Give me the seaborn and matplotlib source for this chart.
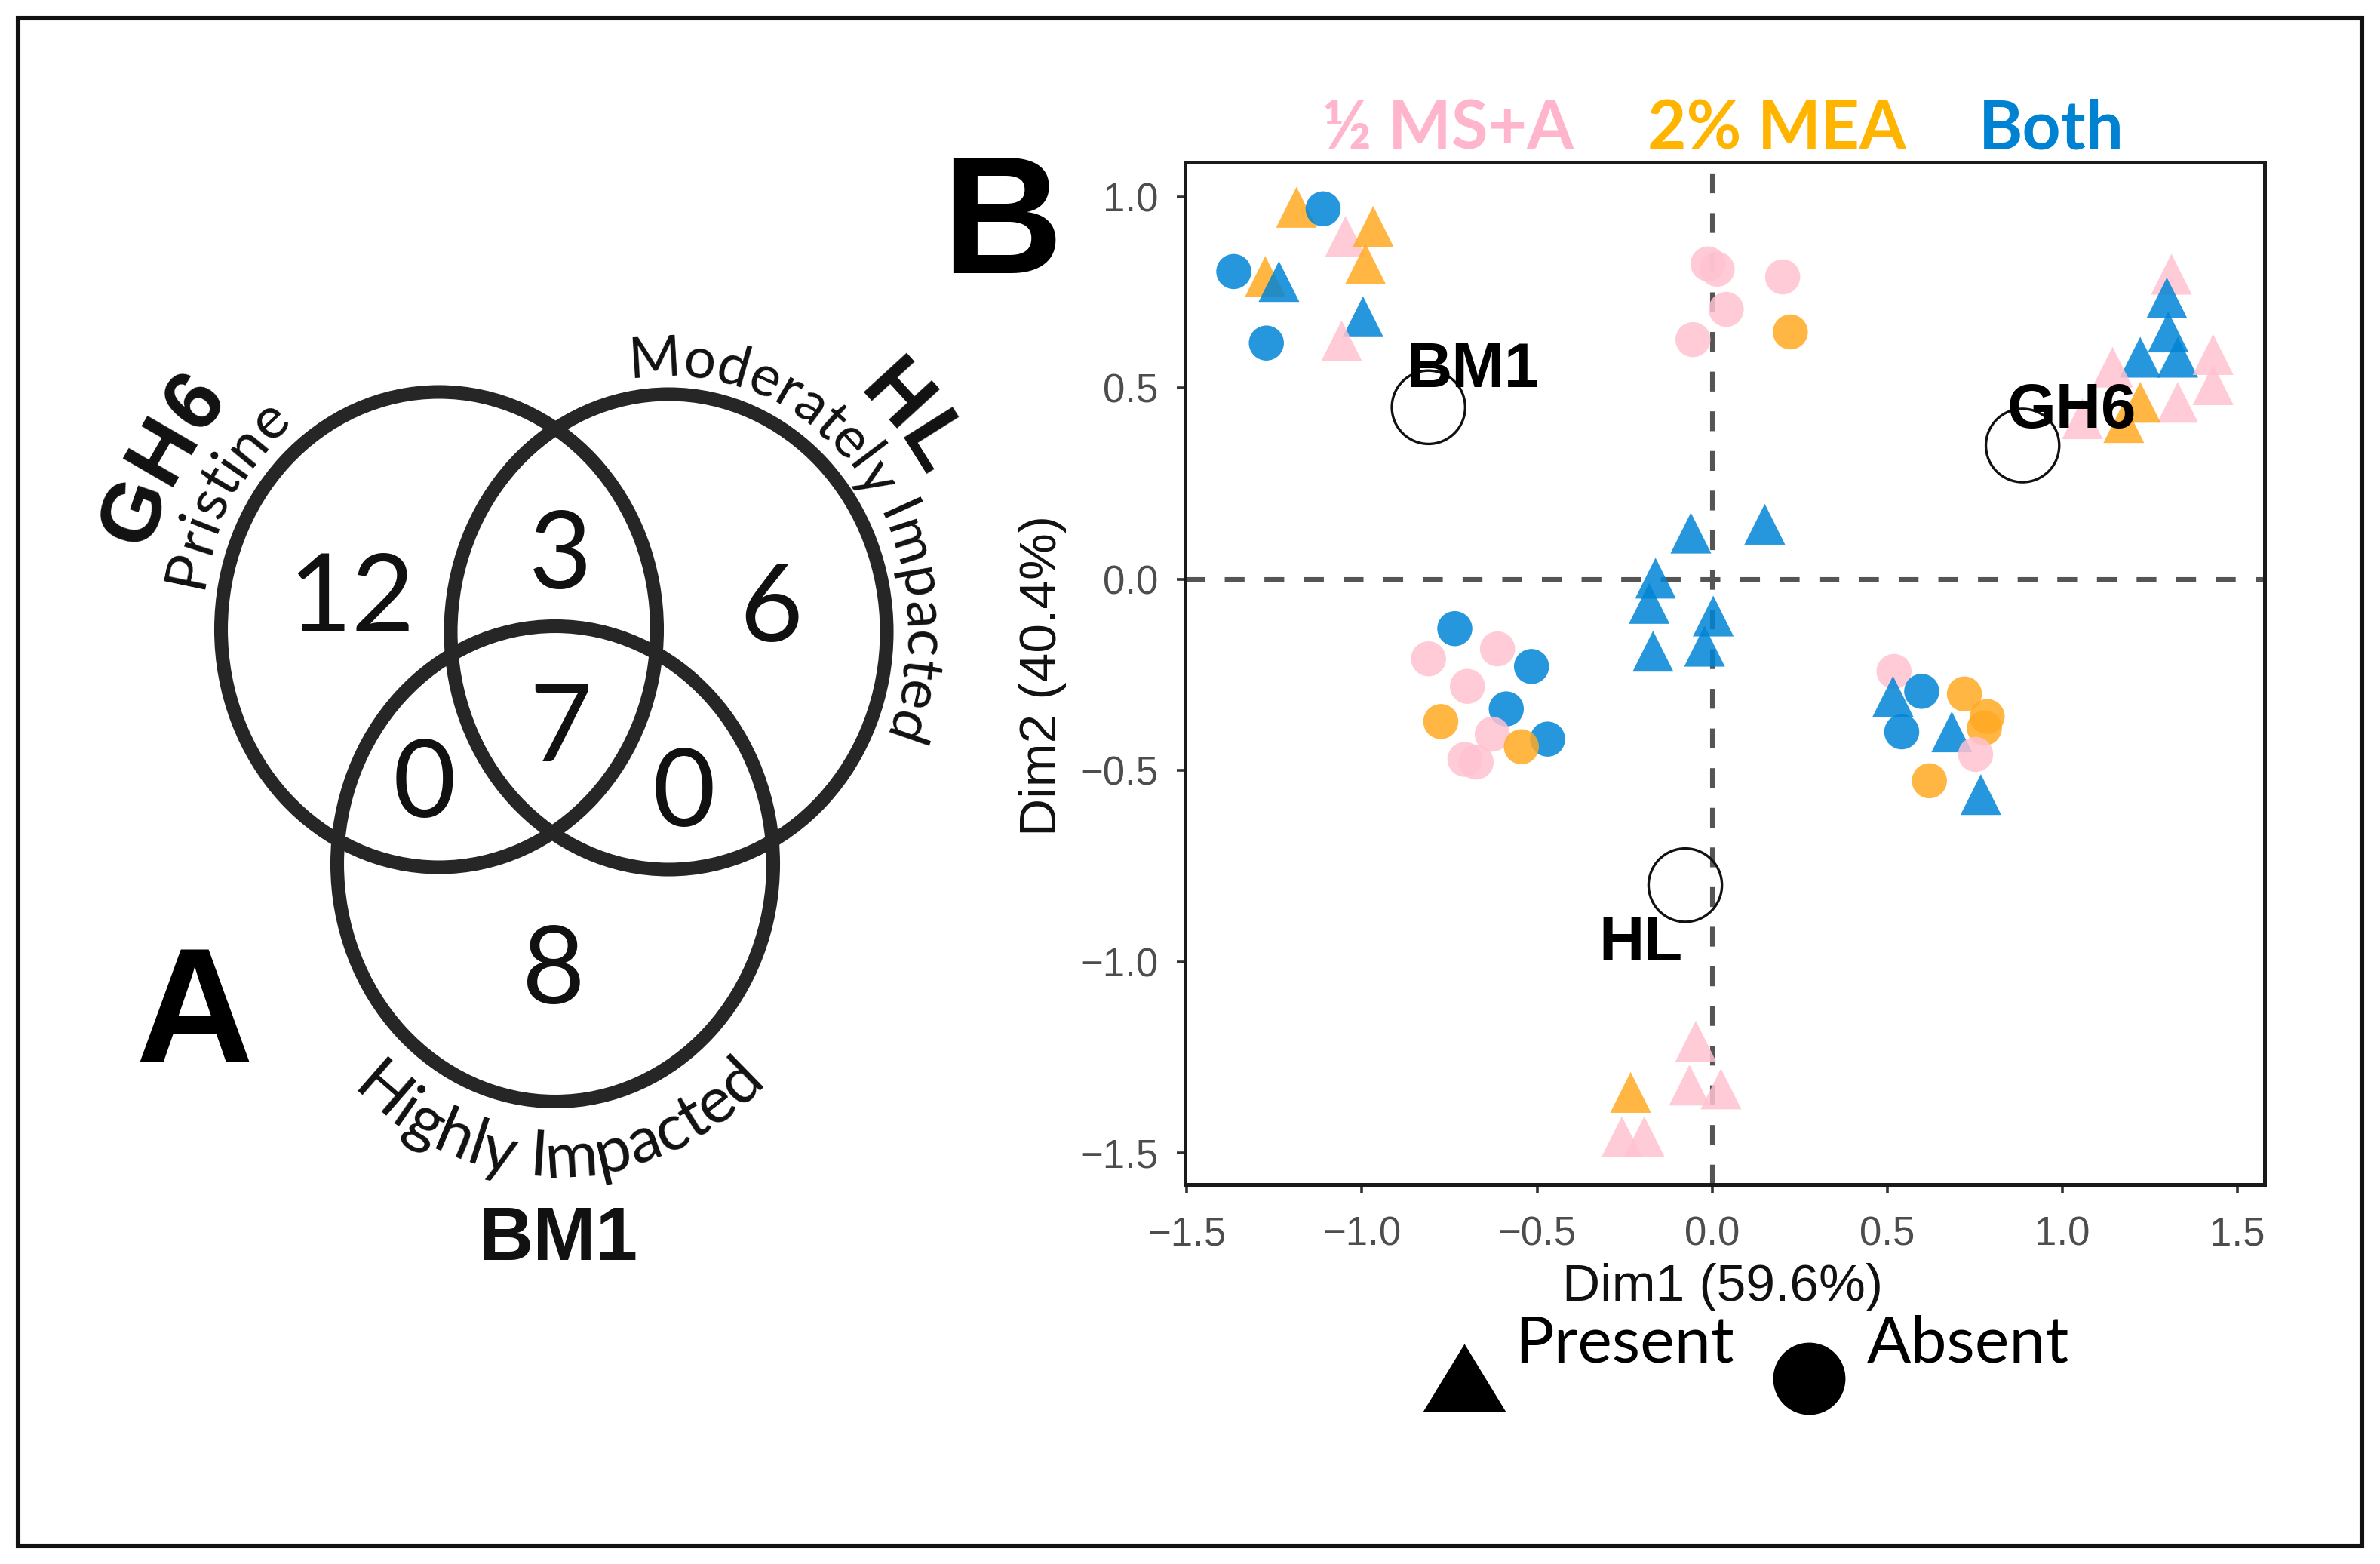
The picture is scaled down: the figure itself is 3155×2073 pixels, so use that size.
import numpy as np
import pandas as pd
import seaborn as sns
import matplotlib.pyplot as plt
from matplotlib import font_manager as fm
from matplotlib.patches import Ellipse, Rectangle
from matplotlib.lines import Line2D

try:
    from matplotlib.ft2font import LoadFlags
    NO_HINT = LoadFlags.NO_HINTING
except ImportError:
    from matplotlib.ft2font import LOAD_NO_HINTING as NO_HINT

# ---- panel A data (Venn counts) ----
venn_sets = ['GH6', 'HL', 'BM1']
venn_desc = ['Pristine', 'Moderately Impacted', 'Highly Impacted']
venn_regions = ['GH6', 'GH6&HL', 'HL', 'GH6&BM1', 'all', 'HL&BM1', 'BM1']
venn_counts = [12, 3, 6, 0, 7, 0, 8]

# ---- panel B data (MCA scores) ----
dim1 = [-1.187, -1.111, -1.047, -0.968, -0.990, -1.366, -1.276, -1.237, -0.997, -1.058, -1.273,
        -0.012, 0.014, 0.040, -0.055, 0.201, 0.223,
        1.311, 1.298, 1.302, 1.222, 1.329, 1.430, 1.430, 1.329, 1.143, 1.057, 1.222, 1.175,
        -0.061, 0.150, -0.162, -0.180, 0.003, -0.169, -0.022,
        -0.735, -0.810, -0.613, -0.516, -0.699, -0.588, -0.775, -0.628, -0.470, -0.545, -0.706, -0.674,
        0.519, 0.516, 0.598, 0.541, 0.720, 0.785, 0.777, 0.684, 0.752, 0.620, 0.767,
        -0.047, -0.065, 0.025, -0.233, -0.258, -0.194]
dim2 = [0.973, 0.969, 0.897, 0.923, 0.825, 0.805, 0.792, 0.779, 0.687, 0.624, 0.618,
        0.825, 0.811, 0.706, 0.627, 0.791, 0.647,
        0.798, 0.736, 0.647, 0.581, 0.581, 0.588, 0.509, 0.463, 0.555, 0.420, 0.463, 0.410,
        0.121, 0.144, 0.003, -0.063, -0.096, -0.188, -0.175,
        -0.129, -0.208, -0.182, -0.228, -0.280, -0.339, -0.372, -0.405, -0.418, -0.438, -0.471, -0.478,
        -0.241, -0.306, -0.293, -0.399, -0.300, -0.359, -0.389, -0.399, -0.458, -0.527, -0.563,
        -1.208, -1.323, -1.333, -1.342, -1.458, -1.458]
medium = ['MEA', 'Both', 'MS', 'MEA', 'MEA', 'Both', 'MEA', 'Both', 'Both', 'MS', 'Both',
          'MS', 'MS', 'MS', 'MS', 'MS', 'MEA',
          'MS', 'Both', 'Both', 'Both', 'Both', 'MS', 'MS', 'MS', 'MS', 'MS', 'MEA', 'MEA',
          'Both', 'Both', 'Both', 'Both', 'Both', 'Both', 'Both',
          'Both', 'MS', 'MS', 'Both', 'MS', 'Both', 'MEA', 'MS', 'Both', 'MEA', 'MS', 'MS',
          'MS', 'Both', 'Both', 'Both', 'MEA', 'MEA', 'MEA', 'Both', 'MS', 'MEA', 'Both',
          'MS', 'MS', 'MS', 'MEA', 'MS', 'MS']
presence = ['Present', 'Absent', 'Present', 'Present', 'Present', 'Absent', 'Present', 'Present', 'Present', 'Present', 'Absent',
            'Absent', 'Absent', 'Absent', 'Absent', 'Absent', 'Absent',
            'Present', 'Present', 'Present', 'Present', 'Present', 'Present', 'Present', 'Present', 'Present', 'Present', 'Present', 'Present',
            'Present', 'Present', 'Present', 'Present', 'Present', 'Present', 'Present',
            'Absent', 'Absent', 'Absent', 'Absent', 'Absent', 'Absent', 'Absent', 'Absent', 'Absent', 'Absent', 'Absent', 'Absent',
            'Absent', 'Present', 'Absent', 'Absent', 'Absent', 'Absent', 'Absent', 'Present', 'Absent', 'Absent', 'Present',
            'Present', 'Present', 'Present', 'Present', 'Present', 'Present']

site_names = ['BM1', 'GH6', 'HL']
site_dim1 = [-0.81, 0.886, -0.077]
site_dim2 = [0.45, 0.35, -0.80]
label_dim1 = [-0.683, 1.027, -0.205]
label_dim2 = [0.502, 0.396, -0.997]

medium_names = ['½ MS+A', '2% MEA', 'Both']
axis_ticks = [-1.5, -1.0, -0.5, 0.0, 0.5, 1.0, 1.5]
tick_labels = ['\u22121.5', '\u22121.0', '\u22120.5', '0.0', '0.5', '1.0', '1.5']

palette = {'MS': '#FFC2D1', 'MEA': '#FFAA22', 'Both': '#0085D6'}
text_colors = ['#FFB6CD', '#FFB400', '#0082D2']

DPI = 200
W, H = 3155, 2073
LATO = ['Lato', 'DejaVu Sans']
ARIAL = ['Liberation Sans', 'DejaVu Sans']

sns.set_theme(style='white')
plt.rcParams['font.family'] = ARIAL


def advances(s, family, weight, size):
    prop = fm.FontProperties(family=family, weight=weight, size=size)
    font = fm.get_font(fm.findfont(prop))
    font.set_size(size, DPI)
    out = []
    for ch in s:
        g = font.load_char(ord(ch), flags=NO_HINT)
        out.append(g.linearHoriAdvance / 65536)
    return np.array(out)


def ellipse_text(ax, s, cx, cy, a, b, t_mid, off, size, clockwise=True,
                 family=LATO, weight='normal'):
    # put characters one by one along an ellipse (pixel coords, y down)
    adv = advances(s, family, weight, size)
    centres = np.cumsum(adv) - adv / 2 - adv.sum() / 2
    A, B = a + off, b + off
    t0 = np.radians(t_mid)
    ts = np.linspace(t0 - np.pi, t0 + np.pi, 6001)
    speed = np.hypot(A * np.sin(ts), B * np.cos(ts))
    arc = np.concatenate([[0], np.cumsum((speed[1:] + speed[:-1]) / 2 * np.diff(ts))])
    arc -= np.interp(t0, ts, arc)
    sign = -1 if clockwise else 1
    for ch, u in zip(s, centres):
        if ch == ' ':
            continue
        t = np.interp(sign * u, arc, ts)
        ang = np.degrees(np.arctan2(sign * B * np.cos(t), -sign * A * np.sin(t)))
        ax.text(cx + A * np.cos(t), cy - B * np.sin(t), ch, rotation=ang,
                rotation_mode='anchor', ha='center', va='baseline',
                family=family, weight=weight, fontsize=size, color='#111111')


fig = plt.figure(figsize=(W / DPI, H / DPI), dpi=DPI)
fig.patch.set_facecolor('white')

# ---------------- panel A : Venn ----------------
ax_a = fig.add_axes([0, 0, 1, 1])
ax_a.set_xlim(0, W)
ax_a.set_ylim(H, 0)
ax_a.axis('off')

ax_a.add_patch(Rectangle((24, 24), W - 48, H - 48, fill=False, lw=2.2, ec='#111111'))

centres = [(582, 834.5), (886.5, 837.5), (736, 1145)]
ea, eb = 289, 315
for cx, cy in centres:
    ax_a.add_patch(Ellipse((cx, cy), 2 * ea, 2 * eb, fill=False, lw=6.5, ec='#262626'))

count_pos = [(466, 785), (743, 728), (1022, 798), (563, 1031), (743, 957), (907, 1043), (734, 1278)]
for (x, y), n in zip(count_pos, venn_counts):
    ax_a.text(x, y + 52, str(n), ha='center', va='baseline', family=LATO,
              fontsize=52, color='#111111')

ellipse_text(ax_a, venn_desc[0], *centres[0], ea, eb, 149.5, 30, 28, True)
ellipse_text(ax_a, venn_sets[0], *centres[0], ea, eb, 150, 110, 40, True, ARIAL, 'bold')
ellipse_text(ax_a, venn_desc[1], *centres[1], ea, eb, 36, 24, 27, True)
ellipse_text(ax_a, venn_sets[1], *centres[1], ea, eb, 39.5, 98, 40, True, ARIAL, 'bold')
ellipse_text(ax_a, venn_desc[2], *centres[2], ea, eb, -89, 100, 31, False)
ax_a.text(740, 1670, venn_sets[2], ha='center', va='baseline', family=ARIAL,
          weight='bold', fontsize=36, color='#111111')

ax_a.text(258, 1408, 'A', ha='center', va='baseline', family=ARIAL, weight='bold',
          fontsize=78, color='black')
ax_a.text(1328, 362, 'B', ha='center', va='baseline', family=ARIAL, weight='bold',
          fontsize=80, color='black')

# ---------------- panel B : MCA scatter ----------------
df = pd.DataFrame({'Dim1': dim1, 'Dim2': dim2, 'Medium': medium, 'Fungi': presence})

ax_b = fig.add_axes([1571 / W, 1 - 1570 / H, (3002 - 1571) / W, (1570 - 215) / H])
ax_b.axhline(0, color='#555555', lw=2.2, dashes=(4.3, 4.3), zorder=1)
ax_b.axvline(0, color='#555555', lw=2.2, dashes=(4.3, 4.3), zorder=1)

sns.scatterplot(data=df, x='Dim1', y='Dim2', hue='Medium', style='Fungi', size='Fungi',
                palette=palette, markers={'Present': '^', 'Absent': 'o'},
                sizes={'Present': 380, 'Absent': 280}, alpha=0.85, linewidth=0,
                legend=False, ax=ax_b, zorder=3)

ax_b.scatter(site_dim1, site_dim2, s=1225, facecolors='none', edgecolors='#111111',
             linewidths=1.2, zorder=4)
for name, x, y in zip(site_names, label_dim1, label_dim2):
    ax_b.text(x, y, name, ha='center', va='baseline', fontsize=30, fontweight='bold',
              color='black', zorder=5)

ax_b.set_xlim(-1.505, 1.577)
ax_b.set_ylim(-1.583, 1.091)
ax_b.set_xticks(axis_ticks)
ax_b.set_xticklabels(tick_labels)
ax_b.set_yticks(axis_ticks[:-1])
ax_b.set_yticklabels(tick_labels[:-1])
ax_b.tick_params(axis='both', bottom=True, left=True, direction='out', length=3.8,
                 width=1.3, color='#333333', labelcolor='#4D4D4D', labelsize=19, pad=9)
ax_b.tick_params(axis='x', pad=11)
for sp in ax_b.spines.values():
    sp.set_visible(True)
    sp.set_color('#1a1a1a')
    sp.set_linewidth(1.8)

ax_b.set_xlabel('Dim1 (59.6%)', fontsize=25, color='#111111')
ax_b.xaxis.set_label_coords(0.4976, -0.077)
ax_b.set_ylabel('Dim2 (40.4%)', fontsize=25, color='#111111')
ax_b.yaxis.set_label_coords(-0.110, 0.498)

# colour key above the plot
for name, col, x in zip(medium_names, text_colors, [1919, 2355, 2719]):
    fig.text(x / W, 1 - 198 / H, name, ha='center', va='baseline', family=LATO,
             weight='bold', fontsize=32, color=col)

# shape key below the plot
tri = [(-1, -0.82), (1, -0.82), (0, 0.82)]
fig.add_artist(Line2D([1941 / W], [1 - 1826 / H], marker=tri, ms=39.6, mew=0,
                      color='black', linestyle='none', transform=fig.transFigure))
fig.add_artist(Line2D([2398 / W], [1 - 1827 / H], marker='o', ms=34.5, mew=0,
                      color='black', linestyle='none', transform=fig.transFigure))
fig.text(2008 / W, 1 - 1805 / H, 'Present', ha='left', va='baseline', family=LATO,
         fontsize=31, color='black')
fig.text(2475 / W, 1 - 1805 / H, 'Absent', ha='left', va='baseline', family=LATO,
         fontsize=31, color='black')

fig.savefig('out.png', dpi=DPI, facecolor='white')
